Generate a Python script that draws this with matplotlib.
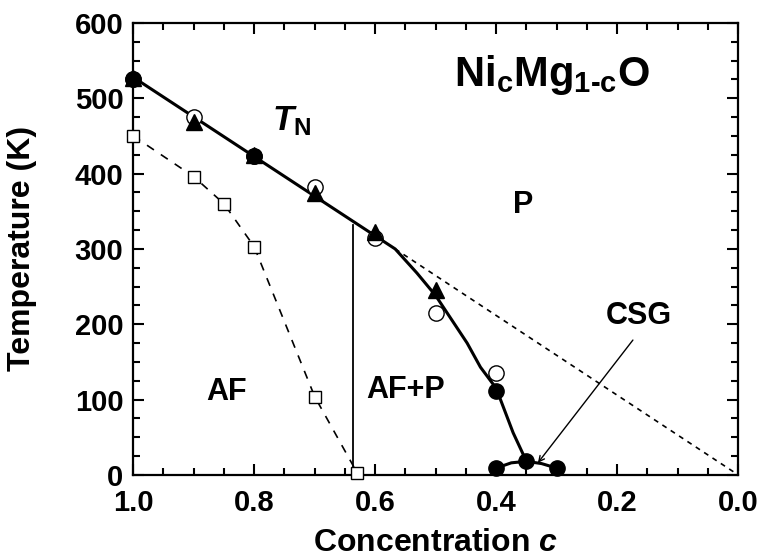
import matplotlib
matplotlib.use("Agg")
from matplotlib import pyplot as plt
from matplotlib.ticker import MultipleLocator

plt.rcParams['font.family'] = ['Liberation Sans', 'DejaVu Sans']
plt.rcParams['font.weight'] = 'bold'
plt.rcParams['mathtext.fontset'] = 'custom'
plt.rcParams['mathtext.rm'] = 'Liberation Sans:bold'
plt.rcParams['mathtext.it'] = 'Liberation Sans:bold:italic'
plt.rcParams['mathtext.bf'] = 'Liberation Sans:bold'

# T_N boundary (solid line)
tn_c = [1.0, 0.567, 0.531, 0.5, 0.448, 0.426, 0.4, 0.372, 0.35]
tn_T = [528, 300, 268, 238, 175, 143, 115, 56, 18]
# CSG dome (small solid arc)
csg_c = [0.4, 0.375, 0.35, 0.325, 0.3]
csg_T = [9, 16, 18, 15, 9]
# dotted extrapolation
dot_c = [0.567, 0.0]
dot_T = [300, 0]
# open squares with dashed line
sq_c = [1.0, 0.9, 0.85, 0.8, 0.7, 0.63]
sq_T = [450, 396, 360, 303, 104, 3]
# filled triangles
tri_c = [1.0, 0.9, 0.8, 0.7, 0.6, 0.5]
tri_T = [527, 469, 425, 374, 323, 246]
# open circles
oc_c = [1.0, 0.9, 0.8, 0.7, 0.6, 0.5, 0.4]
oc_T = [525, 475, 423, 382, 315, 215, 135]
# filled circles
fc_c = [1.0, 0.8, 0.4, 0.35, 0.4, 0.3]
fc_T = [525, 423, 112, 18, 9, 9]
# AF / AF+P boundary
vline_c = 0.636
vline_T = [0, 332]

fig = plt.figure(figsize=(7.61, 5.6), dpi=100)
ax = fig.add_axes([0.175, 0.152, 0.795, 0.807])

ax.plot(tn_c, tn_T, '-', color='black', lw=2.2, zorder=3)
ax.plot(csg_c, csg_T, '-', color='black', lw=2.2, zorder=3)
ax.plot(dot_c, dot_T, color='black', lw=1.2, ls=(0, (3, 3)), zorder=2)
ax.plot(sq_c, sq_T, color='black', lw=1.2, ls=(0, (5, 5)), zorder=2)
ax.plot([vline_c, vline_c], vline_T, '-', color='black', lw=1.3, zorder=2)

ax.plot(sq_c, sq_T, 's', ms=9, mfc='white', mec='black', mew=1.0,
        ls='none', zorder=4, clip_on=False)
ax.plot(oc_c, oc_T, 'o', ms=11, mfc='white', mec='black', mew=1.0,
        ls='none', zorder=4, clip_on=False)
ax.plot(tri_c, tri_T, '^', ms=11, color='black', ls='none', zorder=5, clip_on=False)
ax.plot(fc_c, fc_T, 'o', ms=11, color='black', ls='none', zorder=5, clip_on=False)

ax.set_xlim(1.0, 0.0)
ax.set_ylim(0, 600)
ax.xaxis.set_major_locator(MultipleLocator(0.2))
ax.xaxis.set_minor_locator(MultipleLocator(0.05))
ax.yaxis.set_major_locator(MultipleLocator(100))
ax.yaxis.set_minor_locator(MultipleLocator(25))
ax.set_xticks([1.0, 0.8, 0.6, 0.4, 0.2, 0.0])
ax.set_xticklabels(['1.0', '0.8', '0.6', '0.4', '0.2', '0.0'])
ax.tick_params(which='both', direction='in', top=True, right=True,
               labelsize=21, width=1.5)
ax.tick_params(axis='x', which='both', pad=10)
ax.tick_params(axis='y', which='both', pad=7)
ax.tick_params(which='major', length=8)
ax.tick_params(which='minor', length=5)
for s in ax.spines.values():
    s.set_linewidth(1.6)

ax.set_xlabel('Concentration $\\mathit{c}$', fontsize=23, fontweight='bold')
ax.set_ylabel('Temperature (K)', fontsize=23, fontweight='bold')
ax.xaxis.set_label_coords(0.5, -0.117)
ax.yaxis.set_label_coords(-0.159, 0.5)

ax.text(0.47, 531, 'Ni$_\\mathregular{c}$Mg$_\\mathregular{1\\text{-}c}$O', fontsize=30,
        fontweight='bold', ha='left', va='center')
ax.text(0.77, 470, '$\\mathit{T}_\\mathregular{N}$', fontsize=25, ha='left', va='center')
ax.text(0.355, 358, 'P', fontsize=22, fontweight='bold', ha='center', va='center')
ax.text(0.845, 110, 'AF', fontsize=22, fontweight='bold', ha='center', va='center')
ax.text(0.55, 113, 'AF+P', fontsize=22, fontweight='bold', ha='center', va='center')
ax.text(0.165, 211, 'CSG', fontsize=22, fontweight='bold', ha='center', va='center')
ax.annotate('', xy=(0.331, 16), xytext=(0.174, 179),
            arrowprops=dict(arrowstyle='->', color='black', lw=1.0,
                            shrinkA=0, shrinkB=0))

fig.savefig('out.png', dpi=100)
